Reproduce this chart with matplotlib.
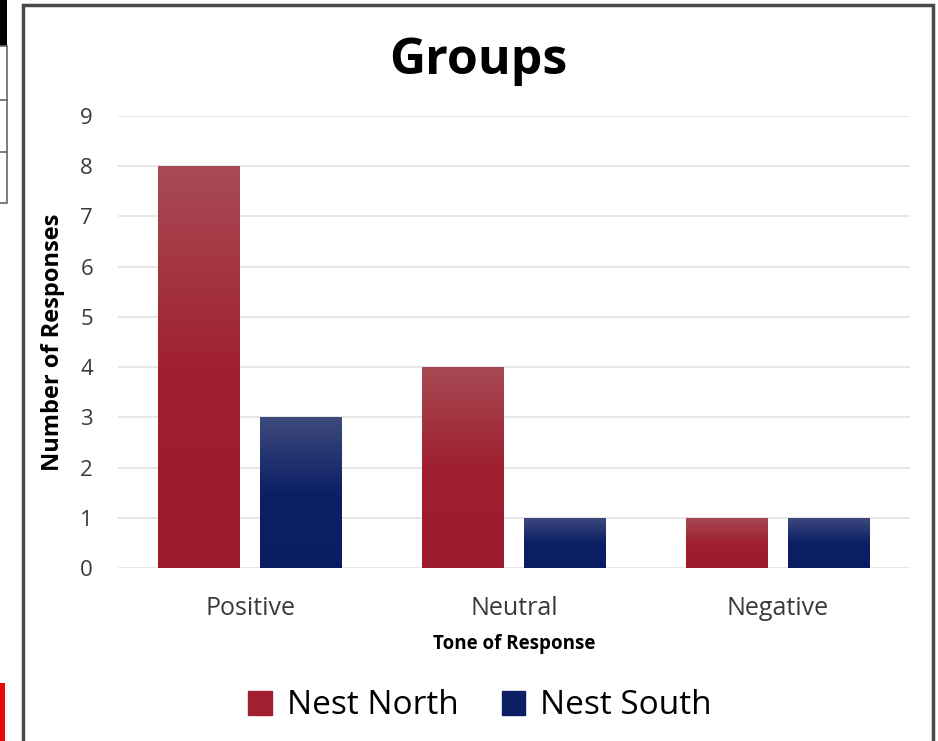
import numpy as np
import matplotlib
matplotlib.use("Agg")
import matplotlib.pyplot as plt
from matplotlib.patches import Rectangle
from matplotlib.colors import LinearSegmentedColormap

categories = ["Positive", "Neutral", "Negative"]
nest_north = [8, 4, 1]
nest_south = [3, 1, 1]
series_names = ["Nest North", "Nest South"]
y_ticks = list(range(0, 10))

plt.rcParams['font.family'] = ['Open Sans', 'DejaVu Sans']

W, H = 938, 741
fig = plt.figure(figsize=(W / 100, H / 100), dpi=100)

# pixel-based helper for the frame and scraps at the left edge
def px_rect(x0, y0, x1, y1, **kw):
    r = Rectangle((x0 / W, 1 - y1 / H), (x1 - x0) / W, (y1 - y0) / H,
                  transform=fig.transFigure, **kw)
    fig.patches.append(r)

px_rect(0, 0, 7, 46, facecolor="black", edgecolor="none")
px_rect(-2, 46, 7, 203, facecolor="white", edgecolor="#666666", linewidth=1.2)
for yy in (100, 152):
    fig.add_artist(plt.Line2D([0, 7 / W], [1 - yy / H, 1 - yy / H],
                              transform=fig.transFigure, color="#666666", lw=1.2))
px_rect(0, 683, 5, 745, facecolor="#e8090b", edgecolor="none")
px_rect(23, 5, 933, 745, facecolor="none", edgecolor="#4a4a4a", linewidth=2.5)

ax = fig.add_axes([118 / W, 1 - 568 / H, (910 - 118) / W, (568 - 116) / H])
for s in ax.spines.values():
    s.set_visible(False)

x = np.arange(len(categories))
width = 0.31
offset = 0.193

red_cmap = LinearSegmentedColormap.from_list("r", ["#9b1a2d", "#a0202f", "#a84a55"])
blue_cmap = LinearSegmentedColormap.from_list("b", ["#0a1c62", "#0d2066", "#3d4a7c"])

grad = np.linspace(0, 1, 256).reshape(-1, 1)
for vals, xs, base, cmap in [(nest_north, x - offset, "#a0202f", red_cmap),
                              (nest_south, x + offset, "#0d2066", blue_cmap)]:
    bars = ax.bar(xs, vals, width=width, color=base, edgecolor="none", zorder=2)
    for b in bars:
        x0, y0 = b.get_x(), b.get_y()
        im = ax.imshow(grad, cmap=cmap, aspect="auto", origin="lower",
                       extent=[x0, x0 + b.get_width(), y0, y0 + b.get_height()],
                       zorder=3)
        im.set_clip_path(b)

ax.set_xlim(-0.5, len(categories) - 0.5)
ax.set_ylim(0, 9)
ax.set_yticks(y_ticks)
ax.set_xticks(x)
ax.set_xticklabels(categories)
ax.grid(axis="y", color="#e3e3e3", linewidth=1.2, zorder=0)
ax.set_axisbelow(True)
ax.tick_params(axis="both", length=0, labelcolor="#3a3a3a")
ax.tick_params(axis="y", pad=18, labelsize=16)
ax.tick_params(axis="x", pad=20.5, labelsize=18)

ax.set_xlabel("Tone of Response", fontsize=13.5, fontweight="bold", labelpad=9)
ax.set_ylabel("Number of Responses", fontsize=17, fontweight="bold", labelpad=11)

fig.text(478 / W, 1 - 61 / H, "Groups", fontsize=36, fontweight="bold",
         ha="center", va="center")

handles = [Rectangle((0, 0), 1, 1, color="#a0202f"),
           Rectangle((0, 0), 1, 1, color="#0d2066")]
fig.legend(handles, series_names, loc="center", bbox_to_anchor=(480 / W, 1 - 706 / H),
           ncol=2, frameon=False, fontsize=24, handlelength=0.7, handleheight=0.7,
           handletextpad=0.45, columnspacing=1.3)

fig.savefig("out.png", dpi=100)
